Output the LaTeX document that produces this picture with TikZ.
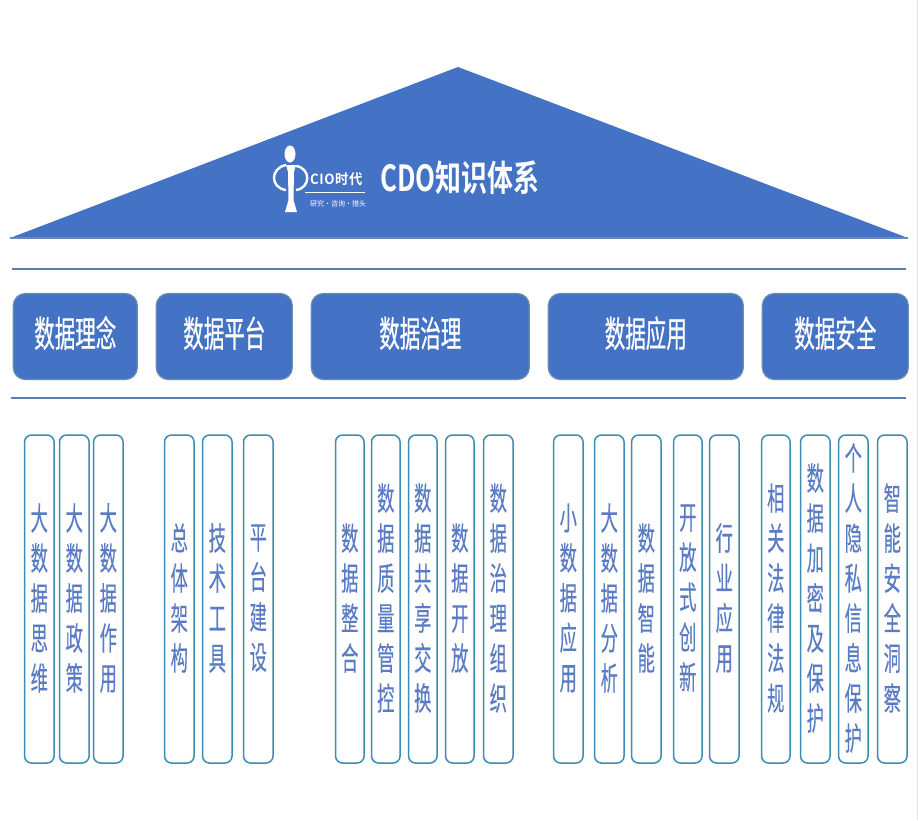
\documentclass[tikz,border=0pt]{standalone}
\usepackage{fontspec}
\setmainfont{Noto Sans CJK SC}
\newfontfamily\cjknarrow[FakeStretch=0.54,FakeBold=0.25]{Noto Sans CJK SC}
\newfontfamily\cjkhead[FakeStretch=0.57,FakeBold=0.5]{Noto Sans CJK SC}
\newfontfamily\cjkbold[FakeStretch=0.72]{Noto Sans CJK SC Bold}
\newfontfamily\cjklogo[FakeStretch=0.95,LetterSpace=4]{Noto Sans CJK SC Bold}
\definecolor{mainblue}{HTML}{4472C4}
\definecolor{edgeblue}{HTML}{41719C}
\definecolor{linecol}{HTML}{5B7DB1}
\definecolor{boxline}{HTML}{3C8DB5}
\definecolor{vtext}{HTML}{5A7CC4}
\tikzset{
  pillarhead/.style={draw=edgeblue!80,line width=1.2pt,fill=mainblue,rounded corners=12pt,text=white,font=\cjkhead\fontsize{36}{36}\selectfont,inner sep=0pt},
  headtext/.style={text=white,font=\cjkhead\fontsize{36}{36}\selectfont,inner sep=0pt},
  itembox/.style={draw=boxline,line width=1.5pt,fill=white,rounded corners=7pt,inner sep=0pt},
  itemtext/.style={text=vtext,font=\cjknarrow\fontsize{32}{40}\selectfont,align=center,inner sep=0pt},
  sepline/.style={draw=linecol,line width=2pt}
}
\newcommand{\headbox}[4]{% name, x0, x1, text
  \node[pillarhead,minimum width=#3pt-#2pt,minimum height=86pt,text height=30pt,text depth=9pt] (#1) at ({(#2+#3)/2+0.3},336.5) {#4};}
\newcommand{\itemcol}[4]{% name, x0, x1, text
  \node[itembox,minimum width=#3pt-#2pt-0.5pt,minimum height=328pt] (#1) at ({(#2+#3)/2+0.3},599) {};
  \node[itemtext] (#1t) at ([yshift=1pt]#1.center) {#4};}
\begin{document}
\begin{tikzpicture}[x=1pt,y=-1pt]
\useasboundingbox (0,0) rectangle (918,820);
\fill[white] (0,0) rectangle (918,820);
\fill[black!12] (916.5,0) rectangle (918,820);
\coordinate (apex) at (458,67);
\coordinate (right) at (908,238);
\coordinate (left) at (10,238);
\fill[mainblue] (apex) -- (right) -- (left) -- cycle;
\draw[edgeblue!80,line width=1.2pt] (left) -- (right);
% logo
\fill[white] (290,154) circle[x radius=5.5pt,y radius=8.5pt];
\fill[white] (286,165) -- (296,165) -- (294,172) -- (293.5,200) -- (297,212) -- (285,212) -- (288.5,200) -- (288,172) -- cycle;
\draw[white,line width=2.4pt] (286,165) .. controls (270,168) and (270,188) .. (286,190);
\draw[white,line width=2.4pt] (296,166) .. controls (311,168) and (311,188) .. (296,190);
\node[text=white,font=\cjklogo\fontsize{14}{14}\selectfont,inner sep=0pt,anchor=west] (logotext) at (310,179) {CIO时代};
\draw[white,line width=.6pt] (305,192) -- (365,192);
\node[text=white,font=\fontsize{7}{7}\selectfont,inner sep=0pt] (logosub) at (338,204) {研究·咨询·猎头};
\node[text=white,font=\cjkbold\fontsize{36}{36}\selectfont,inner sep=0pt] (title) at (460,178) {CDO知识体系};
% lines
\coordinate (l1a) at (12,269); \coordinate (l1b) at (906,269);
\coordinate (l2a) at (11,397.5); \coordinate (l2b) at (906,397.5);
\draw[sepline] (l1a) -- (l1b);
\draw[sepline] (l2a) -- (l2b);
% headers
\headbox{h1}{13}{137}{数据理念}
\headbox{h2}{156}{292}{数据平台}
\headbox{h3}{311}{529}{数据治理}
\headbox{h4}{548}{743}{数据应用}
\headbox{h5}{762}{908}{数据安全}
% items
\itemcol{a1}{24}{54}{大\\数\\据\\思\\维}
\itemcol{a2}{59}{89}{大\\数\\据\\政\\策}
\itemcol{a3}{93}{123}{大\\数\\据\\作\\用}
\itemcol{b1}{164}{194}{总\\体\\架\\构}
\itemcol{b2}{202}{232}{技\\术\\工\\具}
\itemcol{b3}{243}{273}{平\\台\\建\\设}
\itemcol{c1}{335}{364}{数\\据\\整\\合}
\itemcol{c2}{371}{400}{数\\据\\质\\量\\管\\控}
\itemcol{c3}{408}{437}{数\\据\\共\\享\\交\\换}
\itemcol{c4}{445}{474}{数\\据\\开\\放}
\itemcol{c5}{483}{513}{数\\据\\治\\理\\组\\织}
\itemcol{d1}{553}{583}{小\\数\\据\\应\\用}
\itemcol{d2}{594}{624}{大\\数\\据\\分\\析}
\itemcol{d3}{631}{661}{数\\据\\智\\能}
\itemcol{d4}{673}{702}{开\\放\\式\\创\\新}
\itemcol{d5}{709}{739}{行\\业\\应\\用}
\itemcol{e1}{761}{790}{相\\关\\法\\律\\法\\规}
\itemcol{e2}{800}{830}{数\\据\\加\\密\\及\\保\\护}
\itemcol{e3}{838}{868}{个\\人\\隐\\私\\信\\息\\保\\护}
\itemcol{e4}{877}{907}{智\\能\\安\\全\\洞\\察}
\end{tikzpicture}
\end{document}
